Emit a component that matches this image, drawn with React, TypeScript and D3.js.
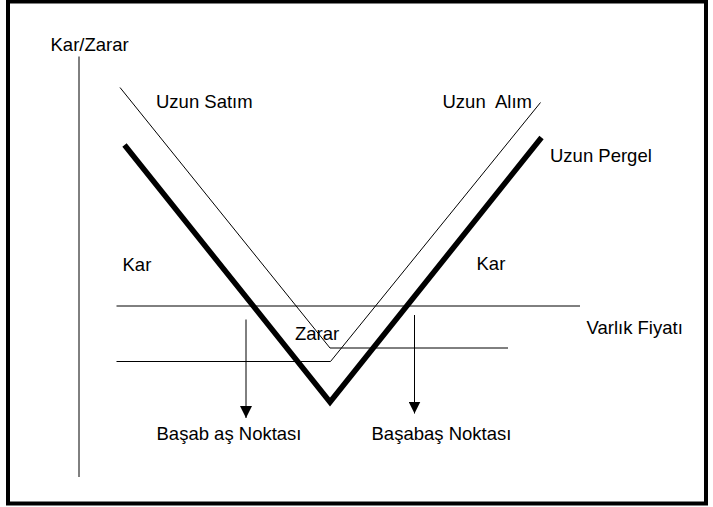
import React from "react";
import * as d3 from "d3";

type Pt = { x: number; y: number };

// Conceptual units: x = asset price, y = profit / loss
const longStraddle: Pt[] = [
  { x: 9.1, y: 32.2 },
  { x: 50.2, y: -19.2 },
  { x: 92.5, y: 33.7 },
];
const longPut: Pt[] = [
  { x: 8.2, y: 43.7 },
  { x: 50.2, y: -8.4 },
  { x: 85.8, y: -8.4 },
];
const longCall: Pt[] = [
  { x: 7.5, y: -11.1 },
  { x: 50.3, y: -11.1 },
  { x: 92.3, y: 40.7 },
];
const assetLine: Pt[] = [
  { x: 7.5, y: 0 },
  { x: 100.2, y: 0 },
];
const yAxisLine: Pt[] = [
  { x: 0, y: 49.9 },
  { x: 0, y: -34.2 },
];
const breakEvenX = [33.4, 67.1];
const breakEvenTop = [-2.7, -1.8];
const breakEvenTip = [-22.4, -21.5];

const labels = [
  { text: "Kar/Zarar", x: -5.7, y: 51.1 },
  { text: "Uzun Satım", x: 15.4, y: 39.6 },
  { text: "Uzun  Alım", x: 72.7, y: 39.6 },
  { text: "Uzun Pergel", x: 94.2, y: 28.9 },
  { text: "Kar", x: 8.7, y: 7.1 },
  { text: "Kar", x: 79.5, y: 7.2 },
  { text: "Varlık Fiyatı", x: 101.5, y: -5.5 },
  { text: "Zarar", x: 43.2, y: -6.8 },
  { text: "Başab aş Noktası", x: 15.5, y: -26.7 },
  { text: "Başabaş Noktası", x: 58.5, y: -26.7 },
];

const W = 713;
const H = 507;

export default function App() {
  const x = d3.scaleLinear().domain([0, 100]).range([79, 579]);
  const y = d3.scaleLinear().domain([-30, 50]).range([456, 56]);
  const line = d3
    .line<Pt>()
    .x((d) => x(d.x))
    .y((d) => y(d.y));

  const font = "'Liberation Sans', Arial, sans-serif";

  return (
    <svg
      width={W}
      height={H}
      style={{ position: "absolute", left: 0, top: 0, background: "#fff" }}
    >
      <defs>
        <marker
          id="arrow"
          viewBox="0 0 12 12"
          refX="12"
          refY="6"
          markerWidth="12"
          markerHeight="12"
          markerUnits="userSpaceOnUse"
          orient="auto"
        >
          <path d="M0,0 L12,6 L0,12 Z" fill="#000" />
        </marker>
      </defs>
      <rect x={8} y={1.5} width={698} height={502} fill="none" stroke="#000" strokeWidth={4} />

      <path d={line(yAxisLine) || ""} fill="none" stroke="#000" strokeWidth={1} />
      <path d={line(assetLine) || ""} fill="none" stroke="#000" strokeWidth={1} />
      <path d={line(longPut) || ""} fill="none" stroke="#000" strokeWidth={1} />
      <path d={line(longCall) || ""} fill="none" stroke="#000" strokeWidth={1} />
      <path
        d={line(longStraddle) || ""}
        fill="none"
        stroke="#000"
        strokeWidth={5.5}
        strokeLinejoin="miter"
      />

      {breakEvenX.map((bx, i) => (
        <line
          key={i}
          x1={x(bx)}
          x2={x(bx)}
          y1={y(breakEvenTop[i])}
          y2={y(breakEvenTip[i])}
          stroke="#000"
          strokeWidth={1}
          markerEnd="url(#arrow)"
        />
      ))}

      {labels.map((l, i) => (
        <text
          key={i}
          x={x(l.x)}
          y={y(l.y)}
          fontFamily={font}
          fontSize={18.5}
          fill="#000"
          style={{ whiteSpace: "pre" }}
        >
          {l.text}
        </text>
      ))}
    </svg>
  );
}
